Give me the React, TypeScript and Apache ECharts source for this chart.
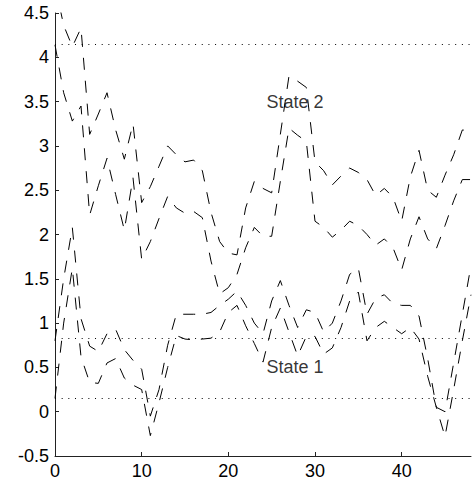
import React, { useEffect, useRef } from "react";
import * as echarts from "echarts";

// x positions (time steps)
const STEPS: number[] = [
  0, 1, 2, 3, 4, 5, 6, 7, 8, 9, 10, 11, 12, 13, 14, 15, 16, 17, 18, 19, 20, 21, 22, 23, 24,
  25, 26, 27, 28, 29, 30, 31, 32, 33, 34, 35, 36, 37, 38, 39, 40, 41, 42, 43, 44, 45, 46, 47, 48,
];

// State 2 upper bound
const STATE2_UPPER: number[] = [
  4.82, 4.36, 4.12, 4.33, 3.13, 3.36, 3.6, 3.18, 2.85, 3.25, 2.36, 2.54, 2.77, 3.0, 2.9, 2.82,
  2.84, 2.72, 2.25, 1.92, 1.79, 1.77, 2.3, 2.6, 2.52, 2.47, 3.13, 3.79, 3.73, 3.66, 2.82, 2.72,
  2.56, 2.66, 2.75, 2.7, 2.62, 2.44, 2.52, 2.42, 2.15, 2.65, 2.95, 2.5, 2.42, 2.67, 2.9, 3.18, 3.17,
];

// State 2 lower bound
const STATE2_LOWER: number[] = [
  4.14, 3.6, 3.28, 3.45, 2.22, 2.55, 2.86, 2.45, 2.05, 2.64, 1.72, 1.92, 2.18, 2.43, 2.3, 2.24,
  2.26, 2.19, 1.7, 1.33, 1.4, 1.55, 1.85, 2.08, 1.98, 1.98, 2.6, 3.2, 3.12, 3.05, 2.15, 2.08,
  1.97, 2.05, 2.15, 2.1, 2.0, 1.88, 1.95, 1.85, 1.6, 1.95, 2.2, 1.95, 1.84, 2.1, 2.38, 2.62, 2.62,
];

// State 1 upper bound
const STATE1_UPPER: number[] = [
  0.8, 1.5, 2.08, 1.05, 0.74, 0.68, 0.88, 0.93, 0.7, 0.58, 0.48, -0.05, 0.25, 0.75, 1.1, 1.1,
  1.1, 1.1, 1.12, 1.2, 1.27, 1.36, 1.2, 1.0, 0.88, 1.25, 1.48, 1.2, 0.95, 1.15, 1.12, 0.9,
  1.0, 1.25, 1.55, 1.62, 1.1, 1.28, 1.32, 1.22, 1.2, 1.2, 1.08, 0.6, 0.05, 0.0, 0.55, 1.1, 1.65,
];

// State 1 lower bound
const STATE1_LOWER: number[] = [
  0.15, 1.0, 1.62, 0.62, 0.33, 0.32, 0.55, 0.6, 0.38, 0.3, 0.25, -0.27, 0.1, 0.5, 0.86, 0.82,
  0.81, 0.82, 0.83, 0.9, 1.12, 1.2, 0.97, 0.77, 0.56, 0.95, 1.17, 0.9, 0.63, 0.85, 0.85, 0.65,
  0.72, 0.95, 1.25, 1.35, 0.8, 0.95, 1.02, 0.95, 0.88, 0.95, 0.82, 0.4, 0.05, -0.28, 0.25, 0.8, 1.32,
];

// horizontal reference levels (dotted)
const LEVELS: number[] = [4.15, 0.83, 0.15];

// annotations
const LABEL_TEXTS: string[] = ["State 2", "State 1"];
const LABEL_X: number[] = [24.4, 24.4];
const LABEL_Y: number[] = [3.5, 0.5];

// axis ticks
const X_TICKS: number[] = [0, 10, 20, 30, 40];

const FONT = "'Liberation Sans', Arial, Helvetica, sans-serif";

export default function App() {
  const ref = useRef<HTMLDivElement>(null);

  useEffect(() => {
    document.body.style.margin = "0";
    if (!ref.current) return;
    const chart = echarts.init(ref.current, null, { renderer: "svg" });

    const dashed = { type: [12, 11] as number[], width: 1, color: "#000" };
    const mkLine = (vals: number[], name: string) => ({
      type: "line",
      name,
      data: vals.map((v, i) => [STEPS[i], v]),
      showSymbol: false,
      symbol: "none",
      lineStyle: dashed,
      silent: true,
      z: 3,
    });

    const lineSeries: any[] = [
      mkLine(STATE2_UPPER, "s2u"),
      mkLine(STATE2_LOWER, "s2l"),
      mkLine(STATE1_UPPER, "s1u"),
      mkLine(STATE1_LOWER, "s1l"),
    ];
    lineSeries[0].markLine = {
      silent: true,
      symbol: ["none", "none"],
      label: { show: false },
      lineStyle: { type: [1, 5.67], color: "#000", width: 1 },
      data: LEVELS.map((y) => ({ yAxis: y })),
      animation: false,
    };

    const labelSeries = LABEL_TEXTS.map((t, i) => ({
      type: "scatter",
      data: [[LABEL_X[i], LABEL_Y[i]]],
      symbol: "circle",
      symbolSize: 0,
      itemStyle: { color: "transparent" },
      silent: true,
      z: 5,
      label: {
        show: true,
        formatter: t,
        position: "right",
        distance: 0,
        color: "#000",
        fontFamily: FONT,
        fontSize: 18,
        align: "left",
        verticalAlign: "middle",
      },
    }));

    chart.setOption({
      animation: false,
      backgroundColor: "#fff",
      grid: { left: 55, right: 1, top: 13, bottom: 25, containLabel: false },
      xAxis: {
        type: "value",
        min: 0,
        max: 48,
        interval: 10,
        axisLine: { show: true, onZero: false, lineStyle: { color: "#222", width: 1 } },
        axisTick: { show: true, inside: true, length: 4, lineStyle: { color: "#222" }, customValues: X_TICKS },
        axisLabel: {
          color: "#000",
          fontFamily: FONT,
          fontSize: 18,
          margin: 6,
          customValues: X_TICKS,
        },
        splitLine: { show: false },
      },
      yAxis: {
        type: "value",
        min: -0.5,
        max: 4.5,
        interval: 0.5,
        axisLine: { show: true, onZero: false, lineStyle: { color: "#222", width: 1 } },
        axisTick: { show: true, inside: true, length: 4, lineStyle: { color: "#222" } },
        axisLabel: { color: "#000", fontFamily: FONT, fontSize: 18, margin: 6 },
        splitLine: { show: false },
      },
      series: [...lineSeries, ...labelSeries],
    });

    return () => chart.dispose();
  }, []);

  return <div ref={ref} style={{ width: 472, height: 481 }} />;
}
